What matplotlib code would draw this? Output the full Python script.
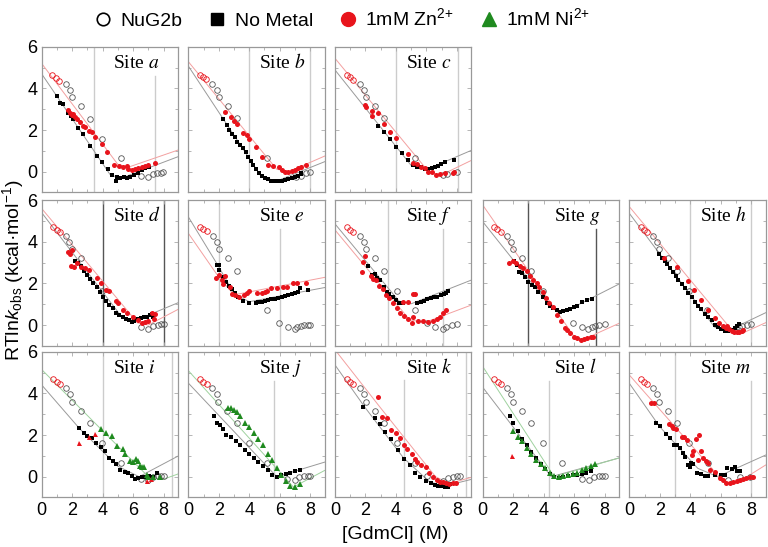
import matplotlib
matplotlib.use("Agg")
import matplotlib.pyplot as plt
from matplotlib.lines import Line2D
from matplotlib.ticker import MultipleLocator

# ---------------- data ----------------
# a
a_nug_x = [0.66, 0.94, 1.16, 1.57, 1.86, 1.97, 2.56, 3.17, 3.97, 5.18, 6.51, 6.99, 7.28, 7.6, 7.8, 7.97]
a_nug_y = [4.65, 4.49, 4.38, 4.22, 3.93, 3.61, 3.17, 2.55, 1.59, 0.66, -0.21, -0.24, -0.13, -0.08, -0.05, -0.02]
a_nm_x = [0.98, 1.20, 1.38, 1.75, 1.90, 2.03, 2.40, 2.73, 3.17, 3.61, 3.98, 4.37, 4.59, 4.87, 4.96, 5.14,
          5.40, 5.62, 5.79, 6.05, 6.34, 6.56, 6.78, 7.04]
a_nm_y = [3.64, 3.29, 3.24, 2.80, 2.68, 2.52, 2.08, 1.81, 1.23, 0.77, 0.45, 0.11, -0.16, -0.43, -0.24, -0.32,
          -0.27, -0.32, -0.24, -0.16, -0.05, 0.08, 0.16, 0.21]
a_zn_x = [1.75, 1.86, 1.97, 2.08, 2.19, 2.30, 2.51, 2.73, 2.84, 3.13, 3.28, 3.50, 3.93, 4.31, 4.74, 5.09,
          5.36, 5.57, 5.68, 5.90, 6.12, 6.34, 6.56, 6.78, 6.99, 7.43]
a_zn_y = [2.96, 2.80, 2.72, 2.76, 2.64, 2.52, 2.37, 2.20, 2.16, 1.97, 1.92, 1.65, 1.33, 0.93, 0.30, 0.27,
          0.24, 0.27, 0.11, 0.08, 0.11, 0.16, 0.21, 0.27, 0.32, 0.43]
a_fit_nm_x = [0, 4.5, 5.2, 8.95]
a_fit_nm_y = [4.70, -0.15, -0.32, 0.72]
a_fit_zn_x = [0, 5.0, 5.7, 8.95]
a_fit_zn_y = [5.20, 0.35, 0.22, 1.04]
a_vx = [3.45, 7.47]
a_vtop = [6, 4.6]

# b
b_nug_x = [0.77, 0.98, 1.16, 1.57, 1.90, 2.01, 2.62, 3.21, 5.18, 7.10, 7.43, 7.72, 8.02]
b_nug_y = [4.65, 4.54, 4.44, 4.21, 3.93, 3.61, 3.16, 2.56, 0.67, -0.24, -0.21, -0.05, -0.02]
b_nm_x = [2.30, 2.51, 2.68, 2.88, 3.06, 3.21, 3.39, 3.56, 3.76, 3.93, 4.11, 4.26, 4.44, 4.63, 4.81, 5.03,
          5.25, 5.46, 5.68, 5.90, 6.12, 6.34, 6.56, 6.78, 7.00, 7.21, 7.37, 7.43]
b_nm_y = [2.52, 2.24, 2.00, 1.81, 1.65, 1.44, 1.28, 1.12, 0.93, 0.69, 0.53, 0.32, 0.11, -0.05, -0.21, -0.32,
          -0.37, -0.43, -0.46, -0.45, -0.43, -0.40, -0.37, -0.32, -0.27, -0.21, -0.13, -0.05]
b_zn_x = [2.40, 2.80, 2.99, 3.21, 3.61, 3.83, 3.98, 4.44, 4.81, 5.25, 5.57, 5.97, 6.12, 6.34, 6.56, 6.78,
          7.00, 7.21, 7.37, 7.72]
b_zn_y = [2.85, 2.61, 2.44, 2.29, 1.88, 1.76, 1.55, 1.17, 0.69, 0.32, 0.27, 0.21, 0.08, 0.00, 0.00, 0.03,
          0.08, 0.16, 0.24, 0.32]
b_fit_nm_x = [0, 4.8, 5.8, 8.95]
b_fit_nm_y = [5.08, -0.25, -0.45, 0.48]
b_fit_zn_x = [0, 5.8, 6.6, 8.95]
b_fit_zn_y = [5.29, 0.12, 0.0, 0.75]
b_vx = [4.0, 8.0]
b_vtop = [6, 6]

# c
c_nug_x = [0.77, 0.98, 1.20, 1.64, 1.90, 2.03, 2.62, 3.21, 5.25, 7.10, 7.37, 8.04]
c_nug_y = [4.65, 4.54, 4.41, 4.21, 3.93, 3.61, 3.16, 2.56, 0.64, -0.16, -0.11, -0.03]
c_nm_x = [2.80, 3.21, 3.61, 4.00, 4.37, 4.81, 5.14, 5.40, 5.62, 5.90, 6.12, 6.34, 6.56, 6.78, 6.99, 7.21, 7.80]
c_nm_y = [2.21, 1.89, 1.57, 1.20, 0.88, 0.56, 0.32, 0.21, 0.24, 0.11, 0.11, 0.16, 0.21, 0.27, 0.37, 0.48, 0.56]
c_zn_x = [1.97, 2.03, 2.40, 2.40, 2.84, 3.21, 3.61, 4.00, 4.81, 5.14, 5.40, 5.62, 5.90, 6.12, 6.34, 6.62,
          6.89, 7.21, 7.72, 7.83]
c_zn_y = [3.21, 3.09, 2.93, 2.68, 2.80, 2.29, 1.89, 1.60, 0.85, 0.40, 0.37, 0.24, 0.16, 0.00, -0.03, -0.16,
          -0.11, -0.08, -0.05, -0.02]
c_fit_nm_x = [0, 5.0, 6.0, 9.0]
c_fit_nm_y = [4.89, 0.30, 0.10, 1.04]
c_fit_zn_x = [0, 6.2, 7.0, 9.0]
c_fit_zn_y = [5.45, -0.05, -0.15, 0.56]
c_vx = [4.0, 8.05]
c_vtop = [6, 6]

# d
d_nug_x = [0.77, 0.98, 1.20, 1.57, 1.81, 1.97, 2.58, 3.93, 6.51, 6.99, 7.28, 7.61, 7.83, 8.02]
d_nug_y = [4.70, 4.57, 4.46, 4.28, 4.01, 3.64, 3.21, 1.65, -0.11, -0.19, -0.05, 0.00, 0.05, 0.05]
d_nm_x = [2.19, 2.36, 2.56, 2.78, 2.99, 3.17, 3.39, 3.61, 3.83, 4.00, 4.22, 4.44, 4.66, 4.87, 5.09, 5.31,
          5.53, 5.75, 5.90, 6.05, 6.27, 6.49, 6.71, 6.93, 7.10, 7.21, 7.32]
d_nm_y = [3.08, 2.96, 2.82, 2.58, 2.39, 2.20, 2.02, 1.84, 1.60, 1.36, 1.17, 0.96, 0.80, 0.59, 0.48, 0.37,
          0.29, 0.24, 0.16, 0.21, 0.27, 0.32, 0.37, 0.40, 0.48, 0.53, 0.40]
d_zn_x = [1.75, 1.86, 1.97, 1.90, 2.12, 2.30, 2.56, 2.84, 3.13, 3.61, 3.87, 4.22, 4.44, 4.87, 5.03, 5.31,
          5.57, 6.01, 6.34, 6.56, 6.78, 6.99, 7.21, 7.43, 7.37]
d_zn_y = [3.53, 3.41, 3.61, 2.84, 2.80, 2.96, 2.80, 2.72, 2.64, 2.24, 2.00, 1.68, 1.65, 1.17, 1.07, 0.72,
          0.56, 0.37, 0.24, 0.08, 0.16, 0.21, 0.56, 0.53, 0.27]
d_fit_nm_x = [0, 5.3, 6.1, 8.95]
d_fit_nm_y = [5.40, 0.35, 0.20, 1.07]
d_fit_zn_x = [0, 6.3, 7.0, 8.95]
d_fit_zn_y = [5.60, 0.10, 0.0, 0.75]
d_vx = [4.0, 8.0]
d_vtop = [6, 6]

# e
e_nug_x = [0.77, 0.98, 1.20, 1.60, 1.86, 2.01, 2.62, 3.21, 5.18, 5.97, 6.56, 6.99, 7.15, 7.37, 7.58, 7.87, 8.02]
e_nug_y = [4.70, 4.60, 4.54, 4.28, 3.97, 3.64, 3.21, 2.61, 0.72, 0.08, -0.11, -0.18, -0.11, -0.05, 0.00, 0.00, 0.00]
e_nm_x = [1.90, 2.03, 2.03, 2.30, 2.47, 2.69, 2.84, 3.06, 3.28, 3.56, 4.00, 4.44, 4.59, 4.81, 5.03, 5.25,
          5.46, 5.68, 5.90, 6.12, 6.34, 6.56, 6.78, 6.99, 7.21, 7.32, 7.87]
e_nm_y = [2.88, 2.88, 2.64, 2.32, 2.08, 1.88, 1.71, 1.52, 1.36, 1.17, 1.04, 1.07, 1.12, 1.12, 1.17, 1.20,
          1.23, 1.25, 1.31, 1.36, 1.39, 1.44, 1.49, 1.52, 1.60, 1.76, 1.68]
e_zn_x = [1.81, 2.03, 2.19, 2.40, 2.25, 2.73, 2.84, 3.06, 3.34, 3.65, 3.83, 4.00, 4.53, 4.81, 5.03, 5.18,
          5.40, 5.79, 6.19, 6.49, 6.89, 7.15, 7.72]
e_zn_y = [2.24, 2.40, 2.16, 2.36, 1.97, 1.81, 1.49, 1.44, 1.36, 1.43, 1.52, 1.65, 1.52, 1.55, 1.60, 1.65,
          1.79, 1.76, 1.81, 1.84, 2.00, 2.00, 2.04]
e_fit_nm_x = [0, 2.0, 3.0, 4.0, 8.95]
e_fit_nm_y = [5.20, 2.80, 1.50, 1.12, 1.80]
e_fit_zn_x = [0, 2.0, 3.0, 8.95]
e_fit_zn_y = [4.41, 2.30, 1.45, 2.29]
e_vx = [2.0, 6.0]
e_vtop = [6, 4.6]

# f
f_nug_x = [0.77, 0.98, 1.20, 1.64, 1.90, 2.03, 2.62, 3.21, 4.04, 5.25, 6.01, 6.56, 7.06, 7.32, 7.65, 8.02]
f_nug_y = [4.70, 4.57, 4.46, 4.28, 3.97, 3.64, 3.21, 2.61, 1.65, 0.72, 0.08, -0.11, -0.19, -0.08, 0.00, 0.05]
f_nm_x = [2.19, 2.40, 2.62, 2.78, 2.95, 3.21, 3.39, 3.56, 3.78, 4.00, 4.22, 4.48, 5.40, 5.62, 5.84, 6.05,
          6.27, 6.49, 6.71, 6.93, 7.15, 7.32, 7.43]
f_nm_y = [2.84, 2.40, 2.45, 2.24, 2.16, 1.81, 1.60, 1.49, 1.33, 1.20, 1.07, 1.07, 1.04, 1.12, 1.17, 1.23,
          1.28, 1.33, 1.36, 1.44, 1.49, 1.55, 1.65]
f_zn_x = [1.97, 1.86, 1.75, 2.34, 2.47, 2.69, 2.91, 3.13, 3.34, 3.56, 3.83, 4.04, 4.26, 4.52, 4.81, 5.03,
          5.09, 4.48, 4.81, 5.09, 5.25, 5.46, 5.79, 6.12, 6.45, 6.67, 6.89, 7.10, 7.28]
f_zn_y = [3.32, 3.05, 2.53, 2.36, 2.20, 2.16, 1.87, 1.71, 1.44, 1.28, 1.04, 0.80, 0.59, 0.43, 0.27, 0.11,
          0.37, 1.12, 1.12, 1.47, 1.49, 0.21, 0.21, 0.16, 0.21, 0.27, 0.37, 0.56, 0.72]
f_fit_nm_x = [0, 4.2, 5.0, 8.95]
f_fit_nm_y = [4.86, 1.15, 1.02, 2.16]
f_fit_zn_x = [0, 4.9, 5.9, 8.95]
f_fit_zn_y = [4.57, 0.25, 0.12, 0.96]
f_vx = [3.5, 7.06]
f_vtop = [6, 4.6]

# g
g_nug_x = [0.74, 0.96, 1.18, 1.57, 1.84, 1.97, 2.56, 3.15, 3.98, 5.94, 6.49, 6.93, 7.15, 7.37, 7.65, 8.02]
g_nug_y = [4.70, 4.60, 4.46, 4.28, 3.97, 3.64, 3.21, 2.61, 1.65, 0.08, -0.11, -0.19, -0.11, -0.05, 0.00, 0.05]
g_nm_x = [2.05, 2.23, 2.40, 2.56, 2.78, 2.99, 3.21, 3.43, 3.65, 3.93, 4.20, 4.42, 4.63, 4.85, 5.07, 5.29,
          5.51, 5.73, 5.99, 6.21, 6.49, 6.82, 7.15]
g_nm_y = [3.09, 2.88, 2.56, 2.51, 2.29, 2.08, 1.92, 1.81, 1.60, 1.36, 1.04, 0.91, 0.80, 0.72, 0.64, 0.67,
          0.72, 0.75, 0.85, 0.91, 1.12, 1.20, 1.23]
g_zn_x = [1.75, 1.97, 2.19, 2.45, 2.67, 2.89, 3.10, 3.32, 3.54, 3.72, 3.93, 4.15, 4.37, 4.59, 4.90, 5.11,
          5.40, 5.55, 5.73, 5.99, 6.21, 6.43, 6.65, 6.86, 7.08, 7.26]
g_zn_y = [3.00, 3.09, 2.96, 2.84, 2.72, 2.61, 2.36, 2.16, 2.04, 1.81, 1.60, 1.28, 1.04, 0.85, 0.48, 0.21,
          -0.16, -0.24, -0.37, -0.56, -0.64, -0.72, -0.69, -0.64, -0.59, -0.59]
g_fit_nm_x = [0, 4.6, 5.4, 8.95]
g_fit_nm_y = [4.97, 0.75, 0.65, 1.97]
g_fit_zn_x = [0, 6.0, 6.6, 8.95]
g_fit_zn_y = [5.77, -0.55, -0.70, 0.08]
g_vx = [3.0, 7.47]
g_vtop = [6, 4.6]

# h
h_nug_x = [0.74, 0.96, 1.14, 1.53, 1.84, 1.97, 2.56, 3.15, 3.93, 5.11, 6.99, 7.21, 7.43, 7.74, 8.02]
h_nug_y = [4.70, 4.57, 4.46, 4.28, 3.97, 3.64, 3.21, 2.61, 1.65, 0.72, -0.16, -0.08, -0.05, 0.00, 0.03]
h_nm_x = [1.97, 2.12, 2.34, 2.49, 2.67, 2.84, 3.06, 3.21, 3.43, 3.65, 3.87, 4.09, 4.31, 4.52, 4.74, 4.96,
          5.18, 5.40, 5.62, 5.84, 6.05, 6.27, 6.49, 6.71, 6.93, 7.08, 7.21]
h_nm_y = [3.41, 3.21, 3.09, 2.93, 2.72, 2.56, 2.36, 2.16, 1.97, 1.76, 1.55, 1.33, 1.12, 0.91, 0.75, 0.53,
          0.40, 0.24, 0.00, -0.11, -0.21, -0.27, -0.27, -0.24, -0.16, -0.05, 0.05]
h_zn_x = [2.27, 3.10, 3.87, 4.24, 4.68, 5.18, 5.62, 5.90, 6.16, 6.34, 6.43, 6.56, 6.71, 6.86, 7.04, 7.21, 7.37, 7.48]
h_zn_y = [3.21, 2.77, 2.13, 1.68, 1.20, 0.72, 0.32, 0.11, -0.05, -0.16, -0.05, -0.21, -0.27, -0.32, -0.34,
          -0.32, -0.29, -0.24]
h_fit_nm_x = [0, 5.6, 6.4, 8.95]
h_fit_nm_y = [5.37, -0.10, -0.30, 0.59]
h_fit_zn_x = [0, 6.8, 7.4, 8.95]
h_fit_zn_y = [5.69, -0.30, -0.40, 0.11]
h_vx = [4.0, 8.0]
h_vtop = [6, 6]

# i
i_nug_x = [0.77, 0.98, 1.20, 1.57, 1.86, 1.97, 2.56, 3.17, 3.98, 5.18, 6.51, 6.99, 7.28, 7.61, 7.83, 8.02]
i_nug_y = [4.68, 4.57, 4.46, 4.25, 3.97, 3.61, 3.17, 2.60, 1.63, 0.67, -0.13, -0.16, -0.03, 0.03, 0.05, 0.05]
i_nm_x = [2.47, 2.78, 2.99, 3.28, 3.56, 3.87, 4.15, 4.44, 4.70, 4.87, 5.14, 5.46, 5.68, 5.90, 6.12, 6.34,
          6.56, 6.78, 7.06, 7.32, 7.54]
i_nm_y = [2.32, 2.12, 1.96, 1.84, 1.63, 1.44, 1.25, 0.88, 0.77, 0.61, 0.32, 0.24, 0.19, 0.03, -0.13, -0.08,
          -0.03, 0.00, 0.03, 0.00, 0.19]
i_zn_x = [2.47, 3.13, 3.50, 6.93, 7.15]
i_zn_y = [1.63, 1.89, 2.05, -0.19, -0.13]
i_ni_x = [3.87, 4.22, 4.59, 4.96, 5.31, 5.46, 5.79, 5.97, 6.19, 6.34, 6.45, 6.56, 6.71, 6.89, 6.99, 7.32, 7.76]
i_ni_y = [2.28, 2.08, 1.95, 1.47, 1.31, 1.09, 0.77, 0.72, 0.83, 0.77, 0.51, 0.45, 0.45, 0.08, 0.00, -0.03, 0.00]
i_fit_nm_x = [0, 2.5, 5.0, 6.4, 8.95]
i_fit_nm_y = [4.41, 2.30, 0.50, 0.0, 0.99]
i_fit_ni_x = [0, 7.0, 8.0, 8.95]
i_fit_ni_y = [5.15, 0.0, -0.12, 0.13]
i_vx = [4.0, 8.55]
i_vtop = [6, 6]

# j
j_nug_x = [0.77, 0.98, 1.20, 1.57, 1.86, 1.97, 2.56, 3.17, 3.98, 5.18, 6.51, 6.99, 7.28, 7.61, 7.83, 8.02]
j_nug_y = [4.68, 4.57, 4.46, 4.25, 3.97, 3.61, 3.17, 2.60, 1.63, 0.67, -0.13, -0.16, -0.03, 0.03, 0.05, 0.05]
j_nm_x = [1.7, 1.9, 2.1, 2.3, 2.5, 2.8, 3.1, 3.4, 3.7, 4.0, 4.3, 4.6, 4.9, 5.2, 5.5, 5.8, 6.1, 6.4, 6.7, 7.0, 7.3]
j_nm_y = [2.9, 2.6, 2.5, 2.3, 2.0, 1.9, 1.7, 1.5, 1.3, 1.1, 0.9, 0.7, 0.5, 0.3, 0.1, 0.0, 0.1, 0.15, 0.2, 0.25, 0.3]
j_ni_x = [2.6, 2.8, 3.0, 3.2, 3.4, 3.7, 4.0, 4.3, 4.6, 4.9, 5.2, 5.5, 5.8, 6.1, 6.4, 6.7, 7.0, 7.3]
j_ni_y = [3.3, 3.3, 3.2, 3.1, 2.9, 2.6, 2.4, 2.1, 1.8, 1.5, 1.1, 0.8, 0.4, 0.1, -0.2, -0.45, -0.5, -0.35]
j_fit_nm_x = [0, 5.8, 8.95]
j_fit_nm_y = [4.5, 0.0, 0.7]
j_fit_ni_x = [0, 6.9, 8.95]
j_fit_ni_y = [5.1, -0.5, 0.3]
j_vx = [5.6]
j_vtop = [4.6]

# k
k_nug_x = [0.77, 0.98, 1.20, 1.64, 1.90, 2.03, 2.62, 3.21, 4.04, 5.25, 6.01, 7.10, 7.43, 7.76, 7.98, 8.20]
k_nug_y = [4.68, 4.57, 4.46, 4.25, 3.97, 3.61, 3.17, 2.60, 1.63, 0.67, 0.05, -0.19, -0.08, 0.00, 0.05, 0.03]
k_nm_x = [1.86, 2.62, 2.95, 3.28, 3.65, 4.15, 4.52, 4.92, 5.25, 5.57, 5.97, 6.27, 6.56, 6.78, 6.99, 7.21, 7.43, 7.58]
k_nm_y = [3.37, 2.84, 2.53, 2.13, 1.83, 1.28, 0.87, 0.56, 0.16, 0.00, -0.19, -0.32, -0.42, -0.45, -0.45,
          -0.48, -0.48, -0.35]
k_zn_x = [2.80, 3.10, 3.39, 3.67, 3.98, 4.26, 4.52, 4.74, 5.03, 5.25, 5.40, 5.62, 5.95, 6.19, 6.45, 6.71,
          6.89, 7.10, 7.32, 7.50, 7.72, 7.93]
k_zn_y = [3.81, 2.88, 2.80, 2.24, 2.08, 1.84, 1.52, 1.31, 1.09, 0.83, 0.72, 0.56, 0.48, 0.19, 0.00, -0.16,
          -0.24, -0.24, -0.29, -0.35, -0.32, -0.29]
k_fit_nm_x = [0, 2.0, 4.5, 6.2, 7.2, 8.95]
k_fit_nm_y = [5.37, 3.30, 0.90, -0.25, -0.45, -0.13]
k_fit_zn_x = [0, 3.0, 6.6, 7.5, 8.95]
k_fit_zn_y = [6.10, 3.30, 0.0, -0.33, -0.03]
k_vx = [4.52, 8.57]
k_vtop = [4.65, 6]

# l
l_nug_x = [0.77, 0.98, 1.20, 1.57, 1.86, 1.97, 2.56, 3.17, 3.98, 5.18, 6.51, 6.99, 7.28, 7.61, 7.83, 8.02]
l_nug_y = [4.68, 4.57, 4.46, 4.25, 3.97, 3.61, 3.17, 2.60, 1.63, 0.67, -0.13, -0.16, -0.03, 0.03, 0.05, 0.05]
l_nm_x = [1.8, 2.0, 2.3, 2.6, 2.9, 3.2, 3.5, 3.8, 4.1, 4.4, 4.7, 5.0, 5.3, 5.6, 5.9, 6.2, 6.5, 6.8, 7.1]
l_nm_y = [2.9, 2.6, 2.2, 1.8, 1.5, 1.2, 0.9, 0.6, 0.35, 0.15, 0.0, -0.05, 0.0, 0.05, 0.1, 0.1, 0.15, 0.2, 0.25]
l_zn_x = [1.9]
l_zn_y = [1.0]
l_ni_x = [2.0, 2.3, 2.6, 2.9, 3.2, 3.5, 3.8, 4.1, 4.4, 4.7, 5.0, 5.3, 5.6, 5.9, 6.2, 6.5, 6.8, 7.1, 7.4]
l_ni_y = [2.2, 1.9, 1.7, 1.4, 1.1, 0.8, 0.6, 0.4, 0.2, 0.05, 0.0, 0.05, 0.1, 0.15, 0.2, 0.3, 0.4, 0.5, 0.6]
l_fit_nm_x = [0, 4.5, 8.95]
l_fit_nm_y = [4.3, 0.0, 0.9]
l_fit_ni_x = [0, 4.7, 8.95]
l_fit_ni_y = [5.3, 0.0, 0.9]
l_vx = [4.35]
l_vtop = [4.6]

# m
m_nug_x = [0.74, 0.96, 1.14, 1.53, 1.84, 1.97, 2.56, 3.15, 3.93, 5.18, 6.49, 7.26, 7.91]
m_nug_y = [4.68, 4.57, 4.46, 4.25, 3.97, 3.61, 3.17, 2.60, 1.63, 0.67, -0.16, -0.03, 0.00]
m_nm_x = [1.75, 2.01, 2.40, 2.67, 2.93, 3.15, 3.32, 3.50, 3.65, 3.87, 3.98, 4.02, 4.15, 4.46, 4.74, 4.96,
          5.18, 5.62, 6.05, 6.27, 6.43, 6.71, 6.93, 7.04, 7.26]
m_nm_y = [2.56, 2.45, 2.04, 1.84, 1.52, 1.52, 1.36, 1.12, 0.93, 0.56, 0.45, 0.67, 0.61, 0.19, 0.13, 0.03,
          0.03, 0.08, 0.08, 0.08, 0.40, 0.35, 0.45, 0.29, 0.29]
m_zn_x = [1.40, 1.62, 2.62, 2.78, 2.89, 3.06, 3.43, 3.58, 3.76, 4.09, 4.20, 4.37, 4.59, 4.52, 4.74, 4.85,
          5.03, 5.18, 5.33, 5.62, 5.95, 6.16, 6.38, 6.60, 6.82, 7.04, 7.26, 7.48, 7.69, 7.91, 8.09]
m_zn_y = [3.56, 3.56, 2.53, 2.44, 2.32, 2.29, 1.89, 1.92, 1.76, 1.04, 1.25, 1.79, 2.00, 0.80, 1.25, 0.88,
          0.77, 0.64, 0.32, 0.24, -0.08, -0.16, -0.29, -0.29, -0.24, -0.19, -0.16, -0.13, -0.08, 0.00, -0.03]
m_fit_nm_x = [0, 2.0, 4.5, 5.8, 8.95]
m_fit_nm_y = [4.49, 2.40, 0.40, 0.0, 1.04]
m_fit_zn_x = [0, 6.2, 7.0, 8.95]
m_fit_zn_y = [4.89, -0.25, -0.33, 0.56]
m_vx = [3.0, 8.0]
m_vtop = [6, 4.6]

# ---------------- styling ----------------
RED = "#e8141c"
GREEN = "#1f8a1f"
GREY_PT = "#555555"
FIT_NM = "#9a9a9a"
FIT_ZN = "#f3a0a0"
FIT_NI = "#9fd29f"
VLIGHT = "#cccccc"
VDARK = "#555555"

plt.rcParams["font.family"] = ["Liberation Sans", "DejaVu Sans"]
plt.rcParams["mathtext.fontset"] = "custom"
plt.rcParams["mathtext.rm"] = "Liberation Sans"
plt.rcParams["mathtext.it"] = "Liberation Sans:italic"

W, H = 0.1775, 0.2662
COL_LEFT = [0.0543, 0.2452, 0.4362, 0.6285, 0.8194]
ROW_BOT = [0.6481, 0.3678, 0.0905]

# (label, row, col, nug, nm, zn, ni, fit_nm, fit_zn, fit_ni, vlines, dark)
panels = [
    ("a", 0, 0, (a_nug_x, a_nug_y), (a_nm_x, a_nm_y), (a_zn_x, a_zn_y), None,
     (a_fit_nm_x, a_fit_nm_y), (a_fit_zn_x, a_fit_zn_y), None, (a_vx, a_vtop), False),
    ("b", 0, 1, (b_nug_x, b_nug_y), (b_nm_x, b_nm_y), (b_zn_x, b_zn_y), None,
     (b_fit_nm_x, b_fit_nm_y), (b_fit_zn_x, b_fit_zn_y), None, (b_vx, b_vtop), False),
    ("c", 0, 2, (c_nug_x, c_nug_y), (c_nm_x, c_nm_y), (c_zn_x, c_zn_y), None,
     (c_fit_nm_x, c_fit_nm_y), (c_fit_zn_x, c_fit_zn_y), None, (c_vx, c_vtop), False),
    ("d", 1, 0, (d_nug_x, d_nug_y), (d_nm_x, d_nm_y), (d_zn_x, d_zn_y), None,
     (d_fit_nm_x, d_fit_nm_y), (d_fit_zn_x, d_fit_zn_y), None, (d_vx, d_vtop), True),
    ("e", 1, 1, (e_nug_x, e_nug_y), (e_nm_x, e_nm_y), (e_zn_x, e_zn_y), None,
     (e_fit_nm_x, e_fit_nm_y), (e_fit_zn_x, e_fit_zn_y), None, (e_vx, e_vtop), False),
    ("f", 1, 2, (f_nug_x, f_nug_y), (f_nm_x, f_nm_y), (f_zn_x, f_zn_y), None,
     (f_fit_nm_x, f_fit_nm_y), (f_fit_zn_x, f_fit_zn_y), None, (f_vx, f_vtop), False),
    ("g", 1, 3, (g_nug_x, g_nug_y), (g_nm_x, g_nm_y), (g_zn_x, g_zn_y), None,
     (g_fit_nm_x, g_fit_nm_y), (g_fit_zn_x, g_fit_zn_y), None, (g_vx, g_vtop), True),
    ("h", 1, 4, (h_nug_x, h_nug_y), (h_nm_x, h_nm_y), (h_zn_x, h_zn_y), None,
     (h_fit_nm_x, h_fit_nm_y), (h_fit_zn_x, h_fit_zn_y), None, (h_vx, h_vtop), False),
    ("i", 2, 0, (i_nug_x, i_nug_y), (i_nm_x, i_nm_y), (i_zn_x, i_zn_y), (i_ni_x, i_ni_y),
     (i_fit_nm_x, i_fit_nm_y), None, (i_fit_ni_x, i_fit_ni_y), (i_vx, i_vtop), False),
    ("j", 2, 1, (j_nug_x, j_nug_y), (j_nm_x, j_nm_y), None, (j_ni_x, j_ni_y),
     (j_fit_nm_x, j_fit_nm_y), None, (j_fit_ni_x, j_fit_ni_y), (j_vx, j_vtop), False),
    ("k", 2, 2, (k_nug_x, k_nug_y), (k_nm_x, k_nm_y), (k_zn_x, k_zn_y), None,
     (k_fit_nm_x, k_fit_nm_y), (k_fit_zn_x, k_fit_zn_y), None, (k_vx, k_vtop), False),
    ("l", 2, 3, (l_nug_x, l_nug_y), (l_nm_x, l_nm_y), (l_zn_x, l_zn_y), (l_ni_x, l_ni_y),
     (l_fit_nm_x, l_fit_nm_y), None, (l_fit_ni_x, l_fit_ni_y), (l_vx, l_vtop), False),
    ("m", 2, 4, (m_nug_x, m_nug_y), (m_nm_x, m_nm_y), (m_zn_x, m_zn_y), None,
     (m_fit_nm_x, m_fit_nm_y), (m_fit_zn_x, m_fit_zn_y), None, (m_vx, m_vtop), False),
]

fig = plt.figure(figsize=(7.68, 5.47), dpi=100)

for (lab, r, c, nug, nm, zn, ni, fnm, fzn, fni, vl, dark) in panels:
    ax = fig.add_axes([COL_LEFT[c], ROW_BOT[r], W, H])
    ax.set_xlim(0, 8.95)
    ax.set_ylim(-1, 6)

    for xv, top in zip(*vl):
        ax.plot([xv, xv], [-1, top], color=VDARK if dark else VLIGHT, lw=1.0, zorder=1)

    ax.plot(*fnm, color=FIT_NM, lw=0.7, zorder=2)
    if fzn is not None:
        ax.plot(*fzn, color=FIT_ZN, lw=0.7, zorder=2)
    if fni is not None:
        ax.plot(*fni, color=FIT_NI, lw=0.7, zorder=2)

    # NuG2b: the first three open circles are drawn in red
    ax.plot(nug[0][:3], nug[1][:3], "o", ms=4, mfc="none", mec=RED, mew=0.6, zorder=3)
    ax.plot(nug[0][3:], nug[1][3:], "o", ms=4, mfc="none", mec=GREY_PT, mew=0.6, zorder=3)
    ax.plot(*nm, "s", ms=3.2, color="black", mew=0, zorder=4)
    if zn is not None:
        mk = "^" if ni is not None else "o"
        ax.plot(*zn, mk, ms=3.6, color=RED, mew=0, zorder=5)
    if ni is not None:
        ax.plot(*ni, "^", ms=3.8, color=GREEN, mew=0, zorder=5)

    ax.text(4.65, 5.0, "Site $\\mathit{%s}$" % lab, family="Liberation Serif",
            math_fontfamily="stix", fontsize=14, va="baseline", ha="left", zorder=6)

    ax.xaxis.set_major_locator(MultipleLocator(2))
    ax.xaxis.set_minor_locator(MultipleLocator(1))
    ax.yaxis.set_major_locator(MultipleLocator(2))
    ax.yaxis.set_minor_locator(MultipleLocator(1))
    ax.tick_params(which="both", direction="in", top=True, right=True, color="#aaaaaa",
                   length=3, width=0.6, labelsize=13, pad=3)
    ax.tick_params(which="minor", length=2)
    for s in ax.spines.values():
        s.set_color("#999999")
        s.set_linewidth(0.9)
    if c != 0:
        ax.set_yticklabels([])
    if r != 2:
        ax.set_xticklabels([])

handles = [
    Line2D([], [], ls="none", marker="o", ms=9, mfc="white", mec="black", mew=1.2),
    Line2D([], [], ls="none", marker="s", ms=8, color="black"),
    Line2D([], [], ls="none", marker="o", ms=10, color=RED),
    Line2D([], [], ls="none", marker="^", ms=10, color=GREEN),
]
labels = ["NuG2b", "No Metal", "1mM Zn$^{2{+}}$", "1mM Ni$^{2{+}}$"]
fig.legend(handles, labels, loc="center", bbox_to_anchor=(0.445, 0.966), ncol=4,
           frameon=False, fontsize=14, handletextpad=0.4, columnspacing=1.3,
           handlelength=1.0)

fig.text(0.514, 0.022, "[GdmCl] (M)", ha="center", va="center", fontsize=14)
fig.text(0.017, 0.506, "RTln$\\mathit{k}_{\\mathrm{obs}}$ (kcal\u00b7mol$^{-1}$)",
         rotation=90, ha="center", va="center", fontsize=14)

fig.savefig("out.png", dpi=100)
